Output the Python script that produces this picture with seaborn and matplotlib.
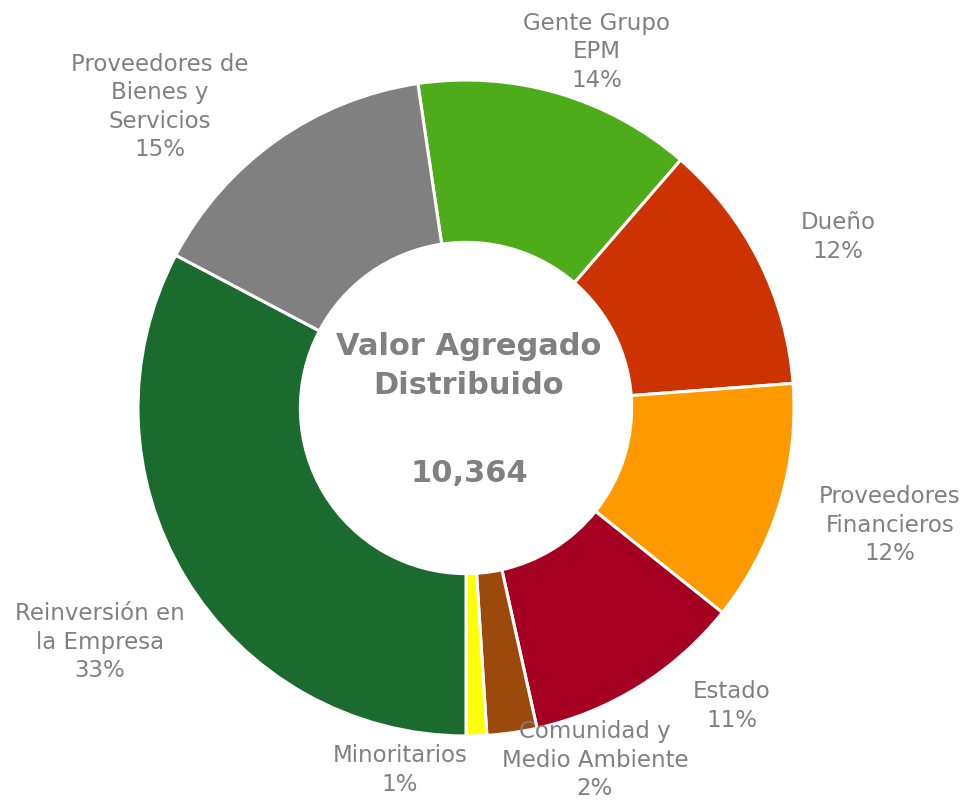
import numpy as np
import matplotlib.pyplot as plt
import seaborn as sns

# valores (miles de millones), en orden horario
categories = ['Gente Grupo\nEPM', 'Dueño', 'Proveedores\nFinancieros', 'Estado',
              'Comunidad y\nMedio Ambiente', 'Minoritarios', 'Reinversión en\nla Empresa',
              'Proveedores de\nBienes y\nServicios']
values = [1420, 1290, 1235, 1120, 255, 105, 3390, 1549]
colors = ['#4EAC1B', '#CC3300', '#FF9900', '#A50021', '#9C4A0C', '#FFFF00', '#1A6B2D', '#808080']
total_label = '10,364'

# label centres in pixel coords, measured from the top
label_xy = [(597, 52), (838, 237), (890, 525), (732, 706),
            (595, 760), (400, 770), (100, 642), (160, 107)]

sns.set_theme(style='white')
plt.rcParams['font.family'] = ['DejaVu Sans']

W, H = 969, 805
fig = plt.figure(figsize=(W / 100, H / 100), dpi=100)
ax = fig.add_axes([0, 0, 1, 1])

total = sum(values)
# Reinversión starts right at the bottom of the ring
frac_before = sum(values[:6]) / total
start = 360 * frac_before - 90

cx, cy, R = 466, 408, 328
wedges, _ = ax.pie(values, colors=colors, startangle=start, counterclock=False,
                   radius=R, center=(cx, H - cy),
                   wedgeprops=dict(width=R * 0.495, edgecolor='white', linewidth=2.2),
                   frame=True)
ax.set_xlim(0, W)
ax.set_ylim(0, H)
ax.set_aspect('equal')
ax.axis('off')

gray = '#808080'
for name, v, (x, y) in zip(categories, values, label_xy):
    pct = round(v / total * 100)
    ax.text(x, H - y, f'{name}\n{pct}%', ha='center', va='center', color=gray,
            fontsize=16.5, linespacing=1.3)

ax.text(cx + 3, H - 366, 'Valor Agregado\nDistribuido', ha='center', va='center',
        color=gray, fontsize=22, fontweight='bold', linespacing=1.4)
ax.text(cx + 3, H - 473, total_label, ha='center', va='center',
        color=gray, fontsize=22, fontweight='bold')

fig.savefig('out.png', dpi=100)
